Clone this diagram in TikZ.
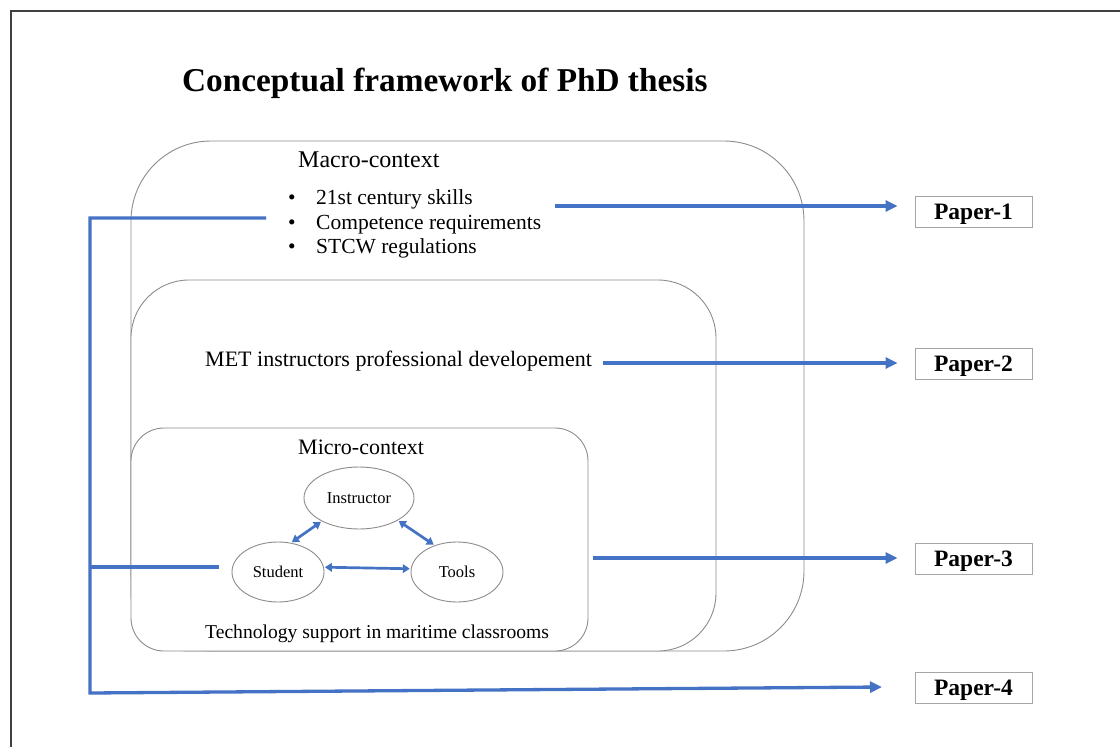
\documentclass[tikz,border=0pt]{standalone}
\usepackage{fontspec}
\setmainfont{Liberation Serif}
\usetikzlibrary{arrows.meta,shapes.geometric}
\definecolor{linkblue}{HTML}{4472C4}
\definecolor{framegray}{HTML}{404040}
\definecolor{boxgray}{HTML}{8C8C8C}
\definecolor{papergray}{HTML}{A6A6A6}
\newcommand{\fs}[1]{\fontsize{#1}{1.2\dimexpr#1pt\relax}\selectfont}
\begin{document}
\begin{tikzpicture}[x=1pt,y=-1pt,
  ctxbox/.style={draw=boxgray, line width=0.9pt, fill=white},
  actor/.style={ellipse, draw=boxgray, line width=0.9pt, inner sep=0pt, font=\fs{16.5}},
  paper/.style={draw=papergray, line width=0.9pt, minimum width=117pt, minimum height=31pt, inner sep=0pt, text depth=1pt, font=\fs{23.5}\bfseries},
  txt/.style={anchor=base west, inner sep=0pt},
  flow/.style={draw=linkblue, line width=3.3pt, -{Triangle[length=12pt,width=11pt]}},
  feed/.style={draw=linkblue, line width=3.3pt},
  link/.style={draw=linkblue, line width=2.7pt, {Triangle[length=7pt,width=8.5pt]}-{Triangle[length=7pt,width=8.5pt]}, shorten <=1pt, shorten >=1pt}
]
\useasboundingbox (0,0) rectangle (1120,747);

% page frame (left and top edges)
\draw[framegray, line width=2.2pt] (11,747) -- (11,11) -- (1120,11);

% title
\node[txt, font=\fs{33.3}\bfseries] (title) at (182,91) {Conceptual framework of PhD thesis};

% nested contexts
\draw[ctxbox, rounded corners=80pt] (131,141) rectangle (804,651);
\draw[ctxbox, rounded corners=58pt] (131,280) rectangle (716,651);
\draw[ctxbox, rounded corners=33pt] (131,428) rectangle (588,651);

% macro level
\node[txt, font=\fs{24}] (macro) at (298,167) {Macro-context};
\node[txt, font=\fs{21.5}] (b1) at (288,204) {\makebox[28pt][l]{\textbullet}21st century skills};
\node[txt, font=\fs{21.5}] (b2) at (288,229) {\makebox[28pt][l]{\textbullet}Competence requirements};
\node[txt, font=\fs{21.5}] (b3) at (288,253) {\makebox[28pt][l]{\textbullet}STCW regulations};

% meso level
\node[txt, font=\fs{22}] (met) at (205,366) {MET instructors professional developement};

% micro level
\node[txt, font=\fs{22}] (micro) at (298,454) {Micro-context};
\node[txt, font=\fs{19.6}] (tech) at (205,638) {Technology support in maritime classrooms};

\node[actor, minimum width=110pt, minimum height=62pt] (in) at (359,498) {Instructor};
\node[actor, minimum width=92pt, minimum height=60pt] (st) at (278,572) {Student};
\node[actor, minimum width=92pt, minimum height=60pt] (to) at (457,572) {Tools};

\draw[link] (st.66) -- (in.212);
\draw[link] (in.-30) -- (to.130);
\draw[link] (st.6) -- (to.176);

% papers
\node[paper] (p1) at (973.5,212) {Paper-1};
\node[paper] (p2) at (973.5,364) {Paper-2};
\node[paper] (p3) at (973.5,559) {Paper-3};
\node[paper] (p4) at (973.5,688) {Paper-4};

% links to papers
\coordinate (a1) at (555,206);
\coordinate (a2) at (603,363);
\coordinate (a3) at (593,558);
\draw[flow, shorten >=17pt] (a1) -- (a1 -| p1.west);
\draw[flow, shorten >=17pt] (a2) -- (a2 -| p2.west);
\draw[flow, shorten >=17pt] (a3) -- (a3 -| p3.west);

\coordinate (t1) at (266,218);
\coordinate (k1) at (90,218);
\coordinate (k2) at (90,693);
\coordinate (e4) at (882,687);
\draw[flow] (t1) -- (k1) -- (k2) -- (e4);

\coordinate (s1) at (91,567);
\coordinate (s2) at (219,567);
\draw[feed] (s1) -- (s2);
\end{tikzpicture}
\end{document}
